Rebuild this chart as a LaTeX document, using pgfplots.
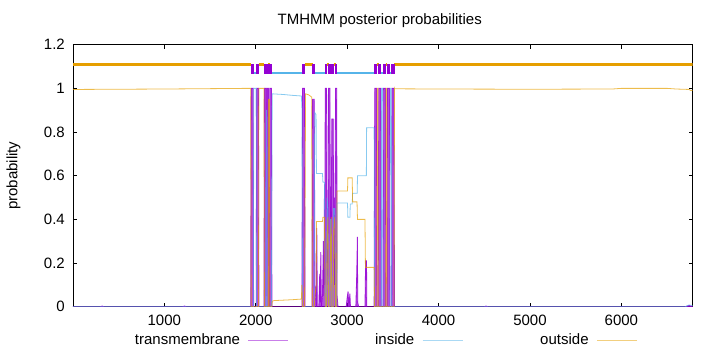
\documentclass[border=0pt]{standalone}
\usepackage{fontspec}
\setmainfont{Liberation Sans}
\usepackage{pgfplots}
\pgfplotsset{compat=1.18}
\definecolor{tmc}{HTML}{9400D3}
\definecolor{inc}{HTML}{56B4E9}
\definecolor{outc}{HTML}{E69F00}
\begin{document}
\fontsize{15}{18}\selectfont
\begin{tikzpicture}
\useasboundingbox (-73pt,-45.3pt) rectangle (647pt,306.7pt);
\begin{axis}[
  scale only axis, width=619.7pt, height=262pt,
  xmin=1, xmax=6780, ymin=0, ymax=1.2,
  xtick={1000,2000,3000,4000,5000,6000},
  ytick={0,0.2,0.4,0.6,0.8,1,1.2},
  scaled ticks=false,
  /pgf/number format/assume math mode=true,
  /pgf/number format/1000 sep={},
  tick align=inside, major tick length=4pt,
  tick style={black, line width=0.5pt},
  axis line style={black, line width=0.7pt},
  yticklabel style={xshift=-3pt},
  xticklabel style={yshift=-3pt},
  ylabel={probability},
  ylabel style={at={(axis description cs:-0.096,0.5)}, anchor=center},
  title={TMHMM posterior probabilities},
  title style={at={(axis description cs:0.495,1)}, anchor=base, yshift=13.7pt},
  no markers,
  unbounded coords=jump,
  legend columns=3,
  legend plot pos=right,
  legend image code/.code={\draw[#1, fill=none, draw opacity=0.5, line width=0.8pt] (0pt,0pt) -- (40pt,0pt);},
  legend style={draw=none, fill=none, inner sep=0pt, outer sep=0pt,
    at={(0.092,-0.127)}, anchor=west,
    nodes={inner sep=0pt, outer sep=0pt},
    /tikz/every odd column/.append style={column sep=8pt},
    /tikz/every even column/.append style={column sep=15.5pt}},
]
% ---------- lower curves ----------
\addplot[draw=tmc, draw opacity=0.85, line width=0.8pt, fill=tmc, fill opacity=0.7] coordinates {
(1,0)(300,0)(320,0.003)(340,0)(1200,0)(1220,0.003)(1240,0)(1930,0)
(1945,0)(1950,1)(1972,1)(1977,0)
(2005,0)(2010,1)(2030,1)(2035,0)
(2090,0)(2095,1)(2112,1)(2116,0.05)(2121,0.05)
(2123,1)(2138,1)(2142,0)
(2150,0)(2154,1)(2172,1)(2177,0)
(2505,0)(2512,1)(2534,1)(2540,0)
(2615,0)(2620,0.95)(2640,0.95)(2648,0.1)(2655,0.05)
(2662,0)(2668,0.36)(2674,0)
(2690,0)(2700,0.15)(2705,0.02)(2712,0.25)(2718,0)(2730,0.05)
(2740,0.3)(2745,0.05)(2752,0.56)(2756,0.1)
(2760,1)(2775,1)(2780,0.2)(2785,0.45)(2790,0.1)
(2796,1)(2812,1)(2816,0.3)(2822,0.55)(2826,0.2)
(2832,0.86)(2848,0.86)(2852,0.2)(2858,0.5)(2863,0.1)
(2873,1)(2886,1)(2890,0.05)(2900,0)
(2990,0)(3000,0.04)(3010,0.07)(3018,0)(3030,0.06)(3036,0)
(3095,0)(3105,0.15)(3112,0.32)(3116,0.02)(3125,0)
(3195,0)(3202,0.21)(3212,0.21)(3215,0)
(3295,0)(3302,1)(3320,1)(3326,0)
(3340,0)(3346,1)(3368,1)(3374,0)
(3392,0)(3396,1)(3418,1)(3423,0)
(3437,0)(3441,1)(3463,1)(3468,0)
(3486,0)(3490,1)(3512,1)(3518,0)
(4500,0)(4520,0.003)(4540,0)(6700,0)(6740,0.006)(6780,0)
} \closedcycle;
\addlegendentry{\makebox[110pt][r]{transmembrane}}
\addplot[draw=inc, draw opacity=0.7, line width=0.8pt] coordinates {
(1,0)(1948,0)(1975,0)(1978,1)(2004,1)(2008,0)
(2112,0)(2115,0.9)(2121,0.9)(2124,0)
(2172,0)(2176,0.5)(2180,0.975)(2300,0.972)(2400,0.968)(2500,0.965)(2506,0.9)(2512,0)
(2535,0)(2615,0)(2640,0)(2645,0.89)(2660,0.88)(2664,0.61)(2730,0.61)(2735,0.57)
(2752,0.57)(2756,0.3)(2760,0)(2775,0)(2780,0.5)(2790,0.45)(2796,0)(2812,0)
(2818,0.4)(2826,0.4)(2832,0)(2848,0)(2852,0.45)(2865,0.45)(2873,0)(2886,0)
(2890,0.475)(3004,0.475)(3008,0.41)(3030,0.41)(3034,0.47)(3055,0.47)(3060,0.52)
(3110,0.52)(3113,0.60)(3210,0.60)(3213,0.82)(3295,0.82)(3300,0)
(3374,0)(3377,1)(3389,1)(3392,0)(3468,0)(3471,1)(3483,1)(3486,0)
(3520,0)(6700,0)(6740,0.008)(6780,0.005)
};
\addlegendentry{\makebox[110pt][r]{inside}}
\addplot[draw=outc, draw opacity=0.7, line width=0.8pt] coordinates {
(1,0.995)(1000,0.997)(1900,1.0)(1945,1.0)(1950,0)(2030,0)(2035,1)(2090,1)(2095,0)
(2138,0)(2141,0.95)(2150,0.95)(2154,0)(2177,0)(2180,0.025)(2200,0.028)(2400,0.032)
(2500,0.035)(2505,0.1)(2512,0)(2534,0)(2540,0.5)(2545,0.975)(2580,0.97)(2612,0.96)
(2620,0)(2640,0)(2648,0.05)(2662,0.1)(2665,0.39)(2730,0.39)(2735,0.41)
(2752,0.41)(2756,0.2)(2760,0)(2775,0)(2780,0.3)(2790,0.41)(2796,0)(2812,0)
(2818,0.3)(2826,0.41)(2832,0)(2848,0)(2852,0.35)(2865,0.41)(2873,0)(2886,0)
(2890,0.53)(3004,0.53)(3008,0.59)(3055,0.59)(3060,0.48)(3108,0.48)(3113,0.40)
(3195,0.40)(3200,0.18)(3295,0.18)(3300,0)
(3326,0)(3329,1)(3337,1)(3340,0)(3423,0)(3426,1)(3434,1)(3437,0)
(3512,0)(3518,1)(3520,0.998)(4000,0.997)(5000,0.996)(5900,0.997)(6000,1.0)
(6500,1.0)(6600,0.997)(6740,0.995)(6760,0.99)(6780,0.99)
};
\addlegendentry{\makebox[110pt][r]{outside}}
% ---------- top topology band ----------
\addplot[outc, line width=2.5pt, forget plot] coordinates {
(1,1.11)(1950,1.11)(1950,nan)
(2032,1.11)(2095,1.11)(2095,nan)
(2139,1.11)(2153,1.11)(2153,nan)
(2535,1.11)(2624,1.11)(2624,nan)
(2777,1.11)(2796,1.11)(2796,nan)
(2851,1.11)(2873,1.11)(2873,nan)
(3325,1.11)(3345,1.11)(3345,nan)
(3420,1.11)(3440,1.11)(3440,nan)
(3515,1.11)(6780,1.11)
};
\addplot[inc, line width=2.5pt, forget plot] coordinates {
(1975,1.07)(2011,1.07)(2011,nan)
(2114,1.07)(2125,1.07)(2125,nan)
(2175,1.07)(2515,1.07)(2515,nan)
(2643,1.07)(2760,1.07)(2760,nan)
(2815,1.07)(2829,1.07)(2829,nan)
(2887,1.07)(3300,1.07)(3300,nan)
(3370,1.07)(3395,1.07)(3395,nan)
(3465,1.07)(3485,1.07)
};
\addplot[tmc, line width=10pt, forget plot] coordinates {
(1946,1.09)(1979,1.09)(1979,nan)
(2006,1.09)(2036,1.09)(2036,nan)
(2090,1.09)(2118,1.09)(2118,nan)
(2121,1.09)(2143,1.09)(2143,nan)
(2149,1.09)(2179,1.09)(2179,nan)
(2510,1.09)(2540,1.09)(2540,nan)
(2619,1.09)(2648,1.09)(2648,nan)
(2755,1.09)(2782,1.09)(2782,nan)
(2791,1.09)(2820,1.09)(2820,nan)
(2824,1.09)(2856,1.09)(2856,nan)
(2868,1.09)(2892,1.09)(2892,nan)
(3295,1.09)(3330,1.09)(3330,nan)
(3340,1.09)(3375,1.09)(3375,nan)
(3390,1.09)(3425,1.09)(3425,nan)
(3435,1.09)(3470,1.09)(3470,nan)
(3480,1.09)(3520,1.09)
};
\end{axis}
\end{tikzpicture}
\end{document}
